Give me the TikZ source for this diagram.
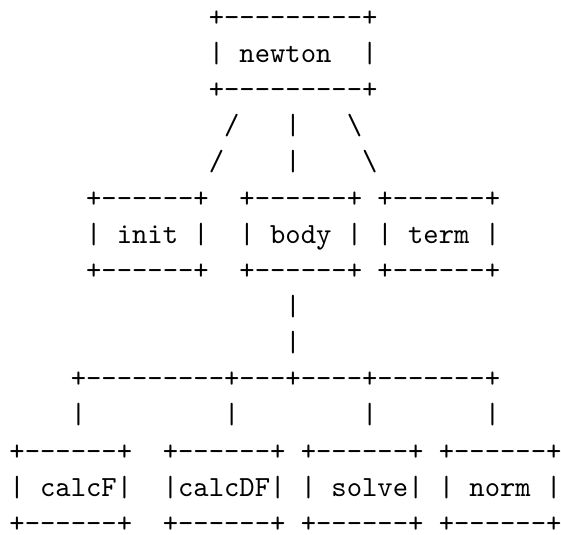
\documentclass[tikz,border=0pt]{standalone}
\newcommand\hy{-\kern0pt}
\newcommand\bs{\textbackslash}
\tikzset{
  asciiline/.style={inner sep=0pt, outer sep=0pt, anchor=base west, text depth=0pt, font=\ttfamily\fontsize{10pt}{12pt}\selectfont, text=black}
}
\newcommand\rowat[2]{({3.25pt+5.25pt*(#2)},{-(9.0pt+12.38pt*(#1))})}
\begin{document}
\begin{tikzpicture}
\useasboundingbox (0,0) rectangle (192.1pt,-182.9pt);
\node[asciiline] (r0) at \rowat{0}{13} {+\hy\hy\hy\hy\hy\hy\hy\hy\hy+};
\node[asciiline] (r1) at \rowat{1}{13} {|~newton~~|};
\node[asciiline] (r2) at \rowat{2}{13} {+\hy\hy\hy\hy\hy\hy\hy\hy\hy+};
\node[asciiline] (r3) at \rowat{3}{14} {/~~~|~~~\bs};
\node[asciiline] (r4) at \rowat{4}{13} {/~~~~|~~~~\bs};
\node[asciiline] (r5) at \rowat{5}{5} {+\hy\hy\hy\hy\hy\hy+~~+\hy\hy\hy\hy\hy\hy+~+\hy\hy\hy\hy\hy\hy+};
\node[asciiline] (r6) at \rowat{6}{5} {|~init~|~~|~body~|~|~term~|};
\node[asciiline] (r7) at \rowat{7}{5} {+\hy\hy\hy\hy\hy\hy+~~+\hy\hy\hy\hy\hy\hy+~+\hy\hy\hy\hy\hy\hy+};
\node[asciiline] (r8) at \rowat{8}{18} {|};
\node[asciiline] (r9) at \rowat{9}{18} {|};
\node[asciiline] (r10) at \rowat{10}{4} {+\hy\hy\hy\hy\hy\hy\hy\hy\hy+\hy\hy\hy+\hy\hy\hy\hy+\hy\hy\hy\hy\hy\hy\hy+};
\node[asciiline] (r11) at \rowat{11}{4} {|~~~~~~~~~|~~~~~~~~|~~~~~~~|};
\node[asciiline] (r12) at \rowat{12}{0} {+\hy\hy\hy\hy\hy\hy+~~+\hy\hy\hy\hy\hy\hy+~+\hy\hy\hy\hy\hy\hy+~+\hy\hy\hy\hy\hy\hy+};
\node[asciiline] (r13) at \rowat{13}{0} {|~calcF|~~|calcDF|~|~solve|~|~norm~|};
\node[asciiline] (r14) at \rowat{14}{0} {+\hy\hy\hy\hy\hy\hy+~~+\hy\hy\hy\hy\hy\hy+~+\hy\hy\hy\hy\hy\hy+~+\hy\hy\hy\hy\hy\hy+};
\end{tikzpicture}
\end{document}
